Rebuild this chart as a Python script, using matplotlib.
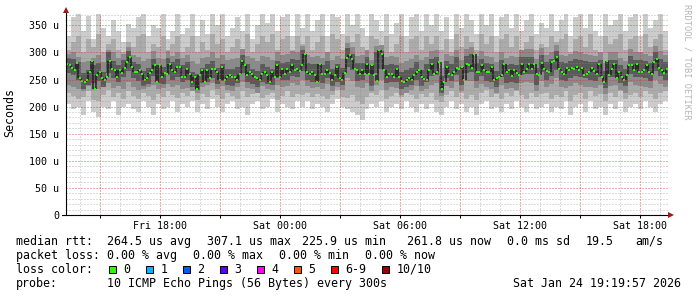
import numpy as np
import matplotlib
import matplotlib.pyplot as plt
from matplotlib.lines import Line2D
from matplotlib.patches import Rectangle

matplotlib.use('AGG')

W, H = 697, 297
MONO = 'DejaVu Sans Mono'

# time axis: hours counted from Fri 00:00
T_START, T_END = 13.3, 43.4
tick_hours = [18, 24, 30, 36, 42]
tick_labels = ['Fri 18:00', 'Sat 00:00', 'Sat 06:00', 'Sat 12:00', 'Sat 18:00']
y_ticks = [0, 50, 100, 150, 200, 250, 300, 350]
y_labels = ['0', '50 u', '100 u', '150 u', '200 u', '250 u', '300 u', '350 u']

# smoke bands, microseconds, one value per 15 min bin (outer -> inner)
ping_max = [330, 365, 372, 340, 368, 325, 372, 345, 330, 360, 340, 320, 352, 345, 365, 372, 330, 350, 345, 372, 325, 340, 372, 335,
            345, 372, 330, 360, 335, 372, 350, 372, 330, 345, 365, 340, 372, 325, 350, 372, 355, 372, 340, 365, 372, 330, 372, 345,
            372, 340, 360, 372, 330, 372, 365, 335, 372, 350, 372, 345, 330, 372, 360, 340, 372, 335, 355, 372, 330, 365, 372, 340,
            372, 350, 372, 340, 365, 325, 372, 345, 372, 360, 335, 372, 350, 372, 330, 365, 372, 345, 372, 340, 360, 372, 335, 355,
            345, 372, 340, 360, 372, 330, 365, 372, 345, 372, 340, 330, 372, 350, 360, 372, 340, 365, 372, 330, 372, 345, 360, 372, 340]
ping_min = [205, 195, 200, 185, 210, 190, 180, 200, 195, 210, 185, 200, 205, 195, 190, 210, 200, 185, 205, 195, 200, 210, 190, 205,
            200, 210, 190, 205, 195, 215, 200, 190, 205, 210, 195, 200, 185, 205, 210, 195, 200, 215, 190, 205, 200, 195, 210, 200,
            210, 195, 205, 200, 190, 205, 215, 200, 195, 190, 185, 175, 195, 205, 200, 210, 190, 200, 205, 195, 210, 200, 190, 205,
            195, 205, 190, 185, 200, 210, 195, 205, 190, 200, 185, 205, 210, 195, 200, 190, 205, 195, 210, 200, 190, 205, 195, 200,
            205, 190, 200, 195, 210, 185, 200, 205, 190, 210, 195, 200, 185, 205, 195, 210, 190, 200, 205, 195, 210, 200, 190, 205, 210]
ping_hi2 = [305, 320, 330, 300, 325, 310, 335, 300, 315, 325, 305, 300, 320, 310, 330, 335, 300, 315, 310, 330, 305, 315, 330, 300,
            310, 330, 300, 320, 305, 335, 315, 325, 300, 310, 325, 305, 335, 300, 315, 330, 320, 335, 305, 325, 330, 305, 330, 315,
            330, 305, 320, 330, 300, 335, 325, 305, 330, 320, 335, 310, 305, 330, 325, 305, 330, 300, 315, 330, 300, 325, 330, 305,
            330, 315, 330, 305, 325, 300, 335, 310, 330, 320, 305, 335, 315, 330, 300, 325, 335, 310, 330, 305, 320, 330, 305, 315,
            310, 330, 320, 325, 335, 300, 325, 330, 310, 335, 305, 300, 330, 315, 325, 335, 305, 325, 330, 300, 335, 310, 325, 335, 305]
ping_lo2 = [225, 220, 215, 218, 228, 212, 210, 222, 230, 218, 225, 215, 228, 220, 214, 226, 220, 212, 224, 218, 228, 222, 216, 225,
            220, 228, 212, 224, 218, 230, 222, 215, 226, 220, 214, 228, 218, 224, 230, 216, 222, 226, 212, 220, 228, 218, 224, 222,
            226, 218, 224, 220, 214, 222, 230, 218, 216, 222, 210, 205, 218, 226, 222, 230, 214, 220, 226, 218, 228, 222, 214, 224,
            218, 226, 212, 208, 222, 228, 218, 226, 214, 222, 212, 226, 230, 218, 224, 214, 226, 220, 228, 222, 214, 226, 218, 224,
            226, 214, 222, 218, 228, 210, 222, 226, 214, 228, 220, 224, 210, 226, 218, 228, 214, 222, 226, 218, 228, 224, 214, 226, 228]
ping_hi3 = [298, 300, 292, 282, 285, 290, 296, 282, 305, 300, 290, 298, 310, 296, 292, 284, 288, 302, 290, 288, 302, 294, 300, 290,
            296, 284, 278, 290, 292, 300, 290, 296, 286, 288, 290, 306, 294, 290, 284, 294, 292, 286, 300, 296, 298, 302, 300, 312,
            296, 292, 294, 290, 300, 286, 294, 288, 318, 310, 294, 296, 304, 286, 312, 314, 292, 294, 292, 280, 284, 288, 296, 286,
            292, 302, 304, 272, 298, 294, 304, 286, 306, 310, 294, 302, 294, 292, 282, 300, 290, 294, 292, 304, 306, 306, 288, 308,
            296, 300, 314, 296, 294, 298, 302, 300, 298, 296, 294, 300, 280, 300, 300, 290, 284, 306, 300, 300, 298, 294, 312, 302, 296]
ping_lo3 = [240, 236, 232, 228, 238, 230, 232, 236, 244, 234, 238, 232, 246, 236, 230, 232, 236, 240, 232, 234, 242, 236, 240, 232,
            234, 228, 226, 236, 240, 244, 232, 238, 230, 228, 236, 246, 234, 232, 226, 238, 232, 230, 240, 236, 238, 244, 240, 250,
            238, 234, 236, 232, 242, 228, 236, 230, 252, 248, 236, 234, 244, 228, 240, 250, 230, 236, 234, 222, 226, 230, 238, 228,
            232, 240, 244, 220, 238, 234, 246, 228, 248, 248, 234, 242, 236, 232, 226, 240, 232, 234, 230, 244, 246, 244, 228, 248,
            236, 242, 252, 236, 234, 238, 244, 240, 236, 236, 234, 240, 224, 238, 240, 230, 226, 246, 240, 238, 236, 234, 250, 242, 236]
ping_hi4 = [290, 288, 282, 262, 268, 276, 280, 264, 300, 284, 276, 286, 302, 282, 278, 266, 272, 288, 272, 274, 290, 282, 288, 276,
            282, 264, 260, 272, 278, 284, 272, 278, 270, 270, 274, 296, 278, 270, 266, 278, 274, 270, 284, 280, 282, 288, 286, 305,
            280, 278, 278, 276, 284, 270, 278, 272, 308, 298, 280, 280, 292, 270, 300, 302, 276, 278, 276, 264, 268, 272, 282, 268,
            278, 288, 292, 256, 284, 278, 292, 270, 294, 298, 280, 288, 280, 278, 266, 286, 276, 278, 276, 292, 292, 292, 272, 296,
            282, 288, 302, 282, 280, 284, 288, 286, 284, 282, 282, 286, 266, 286, 286, 276, 270, 294, 286, 286, 284, 280, 300, 288, 282]
ping_lo4 = [262, 258, 250, 232, 240, 244, 248, 236, 262, 252, 246, 254, 266, 252, 248, 238, 242, 256, 244, 242, 258, 250, 254, 246,
            250, 236, 230, 244, 246, 252, 242, 248, 240, 238, 244, 262, 246, 242, 236, 246, 242, 240, 252, 250, 250, 256, 254, 266,
            250, 246, 248, 244, 252, 238, 246, 240, 274, 268, 248, 250, 260, 238, 262, 270, 244, 246, 246, 232, 236, 240, 250, 238,
            246, 256, 258, 226, 252, 248, 258, 240, 262, 264, 248, 256, 248, 246, 236, 254, 244, 246, 244, 258, 260, 260, 240, 264,
            250, 256, 268, 250, 248, 252, 256, 254, 252, 250, 248, 254, 234, 254, 254, 244, 238, 260, 254, 254, 252, 248, 266, 256, 250]

# median rtt, one value per 7.5 min
median = [279, 276, 272, 267, 281, 252, 248, 246, 249, 264, 285, 233, 258, 264, 252, 249, 255, 285, 270, 267, 255, 267, 262, 272,
          282, 291, 273, 264, 264, 268, 261, 249, 252, 262, 267, 276, 246, 276, 255, 262, 261, 279, 267, 264, 273, 273, 255, 255,
          270, 261, 246, 255, 233, 258, 267, 246, 267, 252, 270, 270, 264, 249, 273, 249, 255, 258, 255, 255, 249, 261, 285, 276,
          258, 264, 261, 255, 252, 250, 261, 264, 258, 246, 264, 255, 276, 255, 270, 261, 270, 264, 276, 267, 270, 266, 276, 297,
          264, 261, 264, 258, 246, 279, 261, 261, 268, 262, 250, 258, 273, 252, 250, 262, 290, 295, 288, 270, 267, 261, 267, 261,
          278, 261, 276, 258, 247, 304, 298, 267, 255, 261, 261, 255, 270, 255, 248, 246, 249, 252, 249, 258, 264, 267, 255, 251,
          249, 267, 279, 261, 264, 282, 233, 246, 273, 261, 258, 264, 272, 270, 273, 249, 279, 276, 272, 297, 264, 264, 276, 267,
          264, 264, 273, 249, 252, 255, 258, 279, 264, 268, 256, 267, 262, 258, 279, 264, 270, 279, 270, 279, 261, 258, 280, 270,
          266, 264, 282, 285, 291, 270, 264, 261, 272, 268, 272, 270, 274, 268, 272, 258, 261, 264, 272, 266, 260, 279, 255, 246,
          285, 258, 270, 279, 252, 264, 255, 249, 258, 276, 276, 267, 279, 264, 264, 267, 276, 264, 261, 282, 288, 272, 267, 262, 270]

loss_labels = ['0', '1', '2', '3', '4', '5', '6-9', '10/10']
loss_colors = ['#26ff00', '#00b8ff', '#0059ff', '#5e00ff', '#ff00ff', '#ff5500', '#ff0000', '#a10000']


def fx(px):
    return px / W


def fy(py):
    return 1 - py / H


fig = plt.figure(figsize=(W / 100, H / 100), dpi=100)
ax = fig.add_axes([fx(66), fy(215), 602 / W, 201 / H])

edges = np.linspace(T_START, T_END, len(ping_max) + 1)
bands = [(ping_min, ping_max, '#cccccc'),
         (ping_lo2, ping_hi2, '#ababab'),
         (ping_lo3, ping_hi3, '#8a8a8a'),
         (ping_lo4, ping_hi4, '#5a5a5a')]
for lo, hi, col in bands:
    ax.stairs(hi, edges, baseline=lo, fill=True, color=col, lw=0, zorder=1)

tm_edges = np.linspace(T_START, T_END, len(median) + 1)
tm = (tm_edges[:-1] + tm_edges[1:]) / 2
# dark connectors between consecutive medians
ax.vlines(tm_edges[1:-1], np.minimum(median[:-1], median[1:]), np.maximum(median[:-1], median[1:]),
          color='#1e1e1e', lw=1.1, zorder=2)
ax.plot(tm, median, 's', ms=2.1, mew=0, color=loss_colors[0], zorder=2.5)

# rrdtool style dotted grid, drawn over the smoke
dots = (0, (1, 1))
minor_c = (0.55, 0.55, 0.55, 0.3)
major_c = (0.9, 0.15, 0.15, 0.38)
for v in range(10, 371, 10):
    ax.axhline(v, color=major_c if v % 50 == 0 else minor_c, lw=0.75, ls=dots, zorder=3, antialiased=False)
for h in range(14, 44):
    ax.axvline(h, color=major_c if h % 3 == 0 else minor_c, lw=0.75, ls=dots, zorder=3, antialiased=False)

ax.set_xlim(T_START, T_END)
ax.set_ylim(0, 371)
ax.set_yticks(y_ticks)
ax.set_yticklabels(y_labels, family=MONO, fontsize=7.2)
ax.set_xticks(tick_hours)
ax.set_xticklabels(tick_labels, family=MONO, fontsize=7.2)
ax.set_xticks(range(15, 44, 3), minor=True)
ax.tick_params(axis='y', length=0, pad=5)
ax.tick_params(axis='x', which='both', length=2, width=0.72, pad=2.5)
for s in ['top', 'right', 'left', 'bottom']:
    ax.spines[s].set_visible(False)

# axes with arrows
fig.add_artist(Line2D([fx(66), fx(66)], [fy(215), fy(11)], color='black', lw=0.8))
fig.add_artist(Line2D([fx(62), fx(670)], [fy(215), fy(215)], color='black', lw=0.8))
fig.add_artist(Line2D([fx(66)], [fy(10)], marker='^', ms=4, color='#a01818', mew=0))
fig.add_artist(Line2D([fx(671)], [fy(215)], marker='>', ms=4, color='#a01818', mew=0))

fig.text(fx(10), fy(112), 'Seconds', rotation=90, ha='center', va='center', family=MONO, fontsize=8.4)
fig.text(fx(687), fy(4), 'RRDTOOL / TOBI OETIKER', rotation=270, ha='center', va='top',
         family=MONO, fontsize=6.2, color='#b4b4b4')

# legend block under the graph
rows = [
    (245, [(16, 'median rtt:'), (107, '264.5 us avg'), (207, '307.1 us max'), (302, '225.9 us min'),
           (407, '261.8 us now'), (507, '0.0 ms sd'), (586, '19.5'), (635, 'am/s')]),
    (259, [(16, 'packet loss:'), (107, '0.00 % avg'), (193, '0.00 % max'), (279, '0.00 % min'), (365, '0.00 % now')]),
    (273, [(16, 'loss color:')]),
    (287, [(16, 'probe:'), (107, '10 ICMP Echo Pings (56 Bytes) every 300s'), (513, 'Sat Jan 24 19:19:57 2026')]),
]
for yb, items in rows:
    for xp, s in items:
        fig.text(fx(xp), fy(yb), s, family=MONO, fontsize=8.4, va='baseline', ha='left')

box_x = [108.5, 145.5, 182.5, 219.5, 256.5, 293.5, 330.5, 381.5]
for bx, lab, col in zip(box_x, loss_labels, loss_colors):
    fig.add_artist(Rectangle((fx(bx), fy(272.5)), 7 / W, 7 / H, facecolor=col,
                             edgecolor='black', lw=0.72, transform=fig.transFigure))
    fig.text(fx(bx + 15), fy(273), lab, family=MONO, fontsize=8.4, va='baseline', ha='left')

fig.savefig('out.png', dpi=100)
